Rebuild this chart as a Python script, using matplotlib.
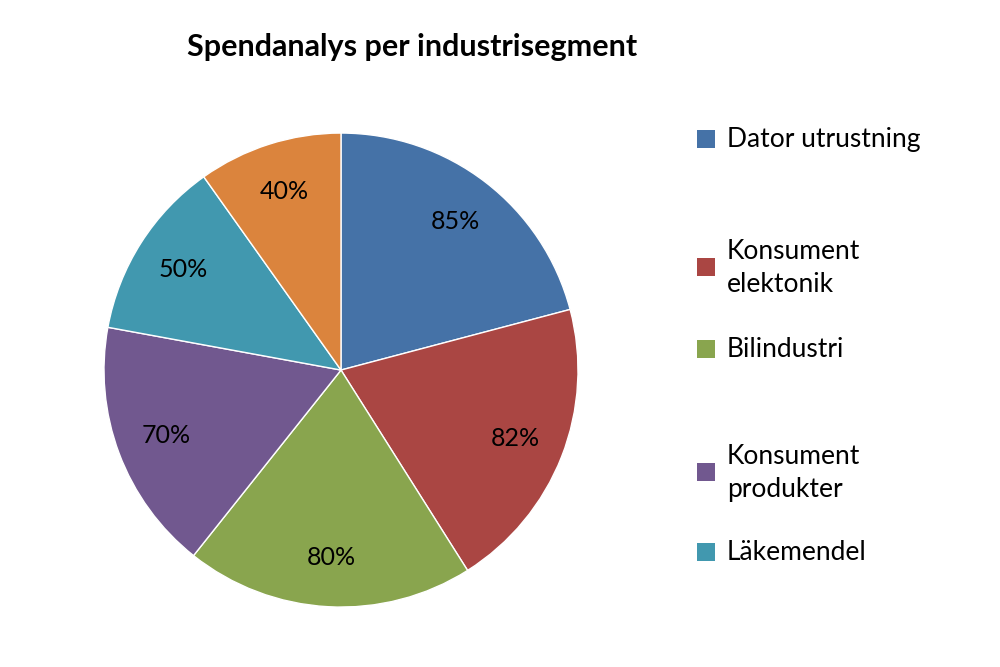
import matplotlib
matplotlib.use("Agg")
import matplotlib.pyplot as plt
from matplotlib.patches import Rectangle

categories = ["Dator utrustning", "Konsument\nelektonik", "Bilindustri", "Konsument\nprodukter", "Läkemendel", "Övrigt"]
values = [85, 82, 80, 70, 50, 40]
labels = ["85%", "82%", "80%", "70%", "50%", "40%"]
colors = ["#4572A7", "#AA4643", "#89A54E", "#71588F", "#4198AF", "#DB843D"]

plt.rcParams["font.family"] = "Lato"
fig = plt.figure(figsize=(10, 6.67), dpi=100)
fig.text(0.412, 0.93, "Spendanalys per industrisegment", ha="center", va="center",
         fontsize=22, fontweight="bold")
ax = fig.add_axes([0.104, 0.0897, 0.474, 0.711])
wedges, _ = ax.pie(values, colors=colors, startangle=90, counterclock=False,
                   wedgeprops=dict(edgecolor="white", linewidth=1))
import numpy as np
total = sum(values)
cum = 0
for v, lab in zip(values, labels):
    mid = 90 - (cum + v / 2) / total * 360
    cum += v
    ax.text(0.79 * np.cos(np.radians(mid)), 0.79 * np.sin(np.radians(mid)), lab,
            ha="center", va="center", fontsize=18)
ax.set_xlim(-1, 1); ax.set_ylim(-1, 1); ax.set_aspect("equal"); ax.axis("off")

ys = [140, 268, 350, 473, 553]
for cat, col, y in zip(categories[:5], colors[:5], ys):
    yf = 1 - y / 667
    fig.patches.append(Rectangle((0.697, yf - 0.012), 0.018, 0.027, transform=fig.transFigure,
                                 facecolor=col, edgecolor="none"))
    fig.text(0.727, yf, cat, ha="left", va="center", fontsize=19, linespacing=1.4)

fig.savefig("out.png", dpi=100)
